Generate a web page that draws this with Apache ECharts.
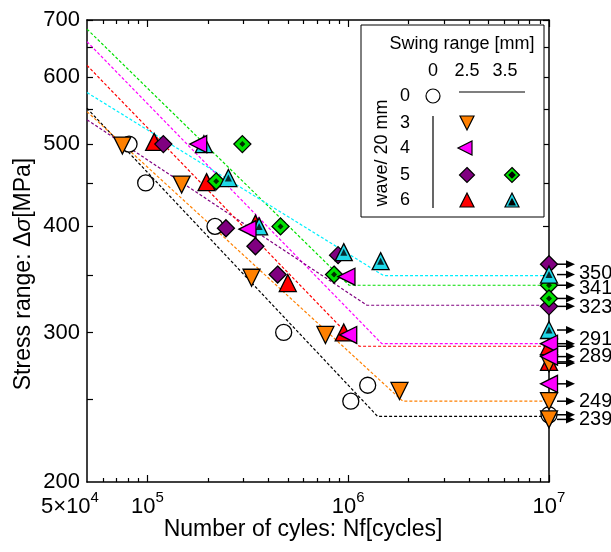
<!DOCTYPE html>
<html>
<head>
<meta charset="utf-8">
<script src="https://cdn.jsdelivr.net/npm/echarts@6/dist/echarts.min.js"></script>
<style>
  html, body { margin: 0; padding: 0; background: #fff; }
  #main { width: 611px; height: 552px; }
</style>
</head>
<body>
<div id="main"></div>
<script>
// S-N data, [cycles, stress range MPa]
// swing 0 mm / wave 0
const plain = [[8.1e4, 500], [9.8e4, 450], [2.17e5, 400], [4.77e5, 300], [1.25e6, 260], [1.03e6, 249]];
const plainRunout = [[1e7, 240]];
// swing 2.5 mm, 3 wave / 20 mm
const w3 = [[7.5e4, 498], [1.48e5, 448], [3.3e5, 348], [7.7e5, 298], [1.8e6, 256]];
const w3Runout = [[1e7, 276], [1e7, 249], [1e7, 237]];
// swing 2.5 mm, 4 wave
const w4 = [[1.79e5, 500], [3.15e5, 397], [9.8e5, 349], [1.0e6, 298]];
const w4Runout = [[1e7, 291], [1e7, 281], [1e7, 261]];
// swing 2.5 mm, 5 wave
const w5 = [[1.2e5, 500], [2.46e5, 398], [3.45e5, 379], [4.45e5, 351], [8.9e5, 370]];
const w5Runout = [[1e7, 361], [1e7, 322]];
// swing 3.5 mm, 5 wave
const w5b = [[2.97e5, 500], [2.2e5, 452], [4.6e5, 400], [8.5e5, 351]];
const w5bRunout = [[1e7, 341], [1e7, 329]];
// swing 2.5 mm, 6 wave
const w6 = [[1.08e5, 503], [1.97e5, 451], [3.45e5, 403], [5.0e5, 343], [9.5e5, 300]];
const w6Runout = [[1e7, 289], [1e7, 277]];
// swing 3.5 mm, 6 wave
const w6b = [[1.91e5, 500], [2.53e5, 456], [3.6e5, 400], [9.5e5, 373], [1.45e6, 364]];
const w6bRunout = [[1e7, 351], [1e7, 302]];

// fitted S-N curves (start, knee, fatigue limit)
const fitPlain = [[5e4, 551], [1.4e6, 239], [1e7, 239]];
const fitW3 = [[5e4, 546], [1.87e6, 249], [1e7, 249]];
const fitW4 = [[5e4, 660], [1.47e6, 291], [1e7, 291]];
const fitW5 = [[5e4, 534], [1.24e6, 323], [1e7, 323]];
const fitW5b = [[5e4, 683], [1.01e6, 341], [1e7, 341]];
const fitW6 = [[5e4, 619], [1.135e6, 289], [1e7, 289]];
const fitW6b = [[5e4, 575], [1.5e6, 350], [1e7, 350]];
const limits = [350, 341, 323, 291, 289, 249, 239];

const xLabelTicks = [5e4, 1e5, 1e6, 1e7];
const xMajorTicks = [1e5, 1e6, 1e7];
const xMinorTicks = [6e4, 7e4, 8e4, 9e4, 2e5, 3e5, 4e5, 5e5, 6e5, 7e5, 8e5, 9e5, 2e6, 3e6, 4e6, 5e6, 6e6, 7e6, 8e6, 9e6];
const yLabelTicks = [200, 300, 400, 500, 600, 700];
const yTicks = [250, 300, 350, 400, 450, 500, 550, 600, 650, 700];

const FONT = '"Liberation Sans", Arial, sans-serif';
const lg = Math.log10;
const XMIN = 5e4, XMAX = 1e7, YMIN = 200, YMAX = 700;

let chart = echarts.init(document.getElementById('main'));

function tickAxis(pos, min, max, ticks, len, extra) {
  return Object.assign({
    type: 'value', position: pos, min: lg(min), max: lg(max),
    axisLine: { show: false },
    axisTick: { show: true, inside: true, length: len, customValues: ticks.map(lg), lineStyle: { color: '#000', width: 1.2 } },
    axisLabel: { show: false },
    splitLine: { show: false }
  }, extra || {});
}

const axisLineStyle = { show: true, lineStyle: { color: '#000', width: 1.5 } };

function pts(name, data, symbol, size, fill, rotate) {
  return {
    type: 'scatter', name: name, data: data, symbol: symbol, symbolSize: size,
    symbolRotate: rotate || 0, clip: false,
    itemStyle: { color: fill, borderColor: '#000', borderWidth: 1.3, opacity: 1 },
    emphasis: { disabled: true }, z: 3
  };
}
function dots(data, symbol, size) {
  return {
    type: 'scatter', data: data, symbol: symbol, symbolSize: size, clip: false,
    itemStyle: { color: '#000' }, emphasis: { disabled: true }, z: 3
  };
}
function fit(data, color) {
  return {
    type: 'line', data: data, symbol: 'none', z: 2,
    lineStyle: { color: color, width: 1.2, type: [3, 2] }
  };
}

const runouts = [].concat(plainRunout, w3Runout, w4Runout, w5Runout, w5bRunout, w6Runout, w6bRunout);
const labelNudge = { 350: -2, 341: 3, 323: 2, 291: -4, 289: 10, 249: 0, 239: 3 };

// legend table
const LX = 361, LY = 25;
function tri(cx, cy, s, dir) {
  const h = s / 2;
  if (dir === 'down') return [[cx - h, cy - h], [cx + h, cy - h], [cx, cy + h]];
  if (dir === 'left') return [[cx + h, cy - h], [cx + h, cy + h], [cx - h, cy]];
  return [[cx - h, cy + h], [cx + h, cy + h], [cx, cy - h]];
}
function dia(cx, cy, s) {
  const h = s / 2;
  return [[cx, cy - h], [cx + h, cy], [cx, cy + h], [cx - h, cy]];
}
function txt(x, y, t, extra) {
  return {
    type: 'text', x: x, y: y, z: 10,
    style: Object.assign({ text: t, fontSize: 18, fontFamily: FONT, fill: '#000',
      textAlign: 'center', textVerticalAlign: 'middle', align: 'center', verticalAlign: 'middle' }, extra || {})
  };
}
function poly(points, fill) {
  return { type: 'polygon', z: 10, shape: { points: points }, style: { fill: fill, stroke: '#000', lineWidth: 1.2 } };
}
const legendEls = [
  { type: 'rect', z: 9, shape: { x: LX, y: LY, width: 183, height: 192 }, style: { fill: '#fff', stroke: '#000', lineWidth: 1 } },
  txt(462, 44, 'Swing range [mm]'),
  txt(433, 71, '0'), txt(467, 71, '2.5'), txt(505, 71, '3.5'),
  txt(405, 96, '0'), txt(405, 123, '3'), txt(405, 148, '4'), txt(405, 175, '5'), txt(405, 200, '6'),
  txt(382, 153, 'wave/ 20 mm', { }),
  { type: 'circle', z: 10, shape: { cx: 433, cy: 96, r: 7 }, style: { fill: '#fff', stroke: '#000', lineWidth: 1.2 } },
  { type: 'line', z: 10, shape: { x1: 459, y1: 92, x2: 525, y2: 92 }, style: { stroke: '#000', lineWidth: 1.2 } },
  { type: 'line', z: 10, shape: { x1: 433, y1: 116, x2: 433, y2: 208 }, style: { stroke: '#000', lineWidth: 1.2 } },
  poly(tri(467, 123, 14, 'down'), '#ff8000'),
  poly(tri(465, 148, 14, 'left'), '#ff00ff'),
  poly(dia(467, 175, 15), '#800080'),
  poly(dia(512, 175, 15), '#00e000'),
  poly(dia(512, 175, 6), '#000'),
  poly(tri(467, 200, 14, 'up'), '#ff0000'),
  poly(tri(512, 200, 14, 'up'), '#20d8e8'),
  poly(tri(512, 202, 6, 'up'), '#000')
];
legendEls[10].rotation = Math.PI / 2;

chart.setOption({
  animation: false,
  backgroundColor: '#fff',
  textStyle: { fontFamily: FONT },
  grid: { left: 87, top: 20, right: 62, bottom: 70, containLabel: false },
  xAxis: [
    {
      type: 'log', logBase: 10, min: XMIN, max: XMAX, position: 'bottom',
      axisLine: axisLineStyle, axisTick: { show: false }, axisLabel: { show: false }, splitLine: { show: false },
      name: 'Number of cyles: Nf[cycles]', nameLocation: 'middle', nameGap: 36,
      nameTextStyle: { fontSize: 23, color: '#000', fontFamily: FONT, padding: [0, 30, 0, 0] }
    },
    tickAxis('bottom', XMIN, XMAX, xMajorTicks, 7, {
      axisLabel: {
        show: true, customValues: xLabelTicks.map(lg), margin: 8, color: '#000',
        formatter: function (v) {
          const e = Math.round(v);
          if (Math.abs(v - e) > 1e-6) {
            const m = Math.round(Math.pow(10, v - Math.floor(v)));
            return '{b|' + m + '×10}{p|' + Math.floor(v) + '}';
          }
          return '{b|10}{s|' + e + '}';
        },
        rich: {
          b: { fontSize: 22, fontFamily: FONT, color: '#000', verticalAlign: 'bottom', lineHeight: 28 },
          s: { fontSize: 15, fontFamily: FONT, color: '#000', verticalAlign: 'top' },
          p: { fontSize: 15, fontFamily: FONT, color: '#000', verticalAlign: 'top', padding: [0, 34, 0, 0] }
        }
      }
    }),
    tickAxis('bottom', XMIN, XMAX, xMinorTicks, 4),
    tickAxis('top', XMIN, XMAX, xMajorTicks, 7, { axisLine: axisLineStyle }),
    tickAxis('top', XMIN, XMAX, xMinorTicks, 4)
  ],
  yAxis: [
    {
      type: 'log', logBase: 10, min: YMIN, max: YMAX, position: 'left',
      axisLine: axisLineStyle, axisTick: { show: false }, axisLabel: { show: false }, splitLine: { show: false },
      name: 'Stress range: Δ{i|σ}[MPa]', nameLocation: 'middle', nameGap: 52,
      nameTextStyle: { fontSize: 23, color: '#000', fontFamily: FONT, padding: [0, 46, 0, 0],
        rich: { i: { fontSize: 23, fontStyle: 'italic', fontFamily: FONT, color: '#000' } } }
    },
    tickAxis('left', YMIN, YMAX, yTicks, 6, {
      axisLabel: {
        show: true, customValues: yLabelTicks.map(lg), margin: 7, color: '#000', fontSize: 22, fontFamily: FONT,
        formatter: function (v) { return String(Math.round(Math.pow(10, v))); }
      }
    }),
    tickAxis('right', YMIN, YMAX, yTicks, 6, { axisLine: axisLineStyle })
  ],
  series: [
    fit(fitPlain, '#000000'),
    fit(fitW3, '#ff8000'),
    fit(fitW4, '#ff00ff'),
    fit(fitW5, '#800080'),
    fit(fitW5b, '#00e000'),
    fit(fitW6, '#ff0000'),
    fit(fitW6b, '#00f0ff'),
    {
      type: 'custom', data: runouts, clip: false, z: 1,
      renderItem: function (params, api) {
        const p = api.coord([api.value(0), api.value(1)]);
        const x0 = p[0] + 8, x1 = p[0] + 26;
        return {
          type: 'group', children: [
            { type: 'line', shape: { x1: x0, y1: p[1], x2: x1 - 6, y2: p[1] }, style: { stroke: '#000', lineWidth: 1.5 } },
            { type: 'polygon', shape: { points: [[x1, p[1]], [x1 - 9, p[1] - 4], [x1 - 9, p[1] + 4]] }, style: { fill: '#000' } }
          ]
        };
      }
    },
    {
      type: 'custom', data: limits.map(function (v) { return [XMAX, v]; }), clip: false, z: 4,
      renderItem: function (params, api) {
        const v = api.value(1);
        const p = api.coord([api.value(0), v]);
        return {
          type: 'text', x: p[0] + 30, y: p[1] + (labelNudge[v] || 0),
          style: { text: String(v), fontSize: 20, fontFamily: FONT, fill: '#000', align: 'left', verticalAlign: 'middle' }
        };
      }
    },
    pts('0', plain.concat(plainRunout), 'circle', 16, '#ffffff'),
    pts('6', w6.concat(w6Runout), 'triangle', 17, '#ff0000'),
    pts('5', w5.concat(w5Runout), 'diamond', 17, '#800080'),
    pts('3', w3.concat(w3Runout), 'triangle', 17, '#ff8000', 180),
    pts('5b', w5b.concat(w5bRunout), 'diamond', 17, '#00e000'),
    dots(w5b.concat(w5bRunout), 'diamond', 6),
    pts('6b', w6b.concat(w6bRunout), 'triangle', 17, '#20d8e8'),
    dots(w6b.concat(w6bRunout), 'triangle', 7),
    pts('4', w4.concat(w4Runout), 'triangle', 17, '#ff00ff', 90)
  ],
  graphic: { elements: legendEls }
});
</script>
</body>
</html>
